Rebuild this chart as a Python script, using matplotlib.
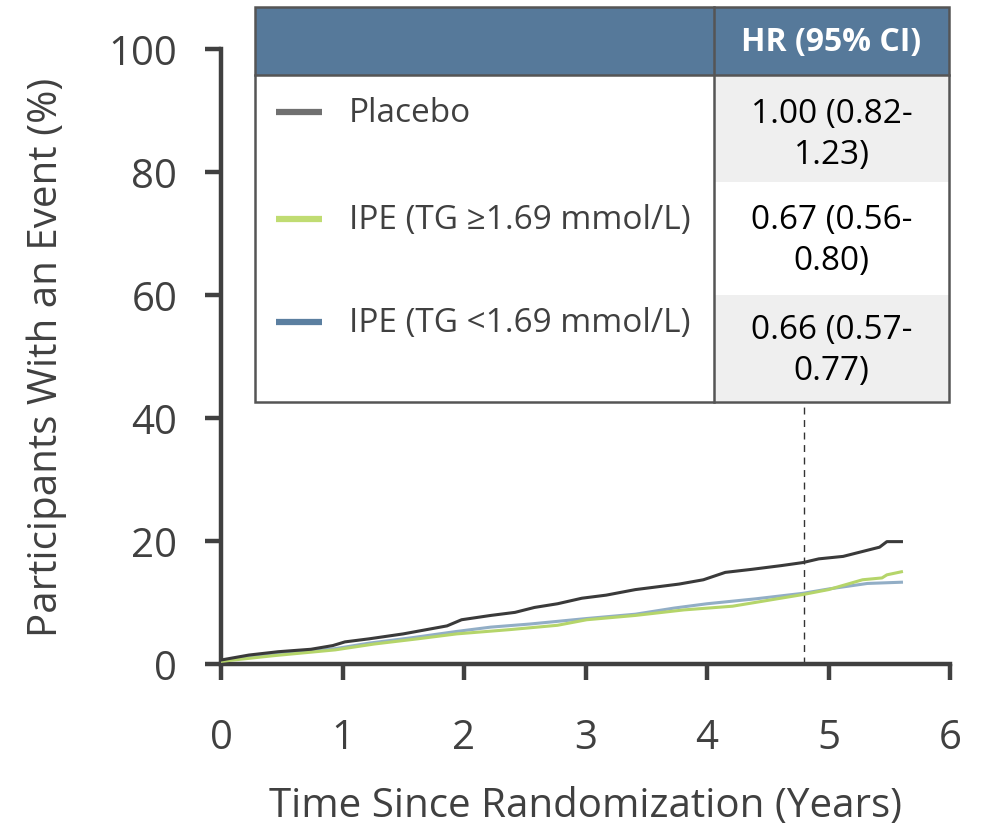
import matplotlib
matplotlib.use("Agg")
import matplotlib.pyplot as plt
from matplotlib.patches import Rectangle

plt.rcParams["font.family"] = ["Open Sans", "DejaVu Sans"]

INK = "#404040"
HEADER = "#56799a"
CELL_GREY = "#efefef"

# cumulative incidence (%) vs years since randomization
placebo_t = [0.0, 0.23, 0.47, 0.74, 0.92, 1.02, 1.22, 1.50, 1.86, 1.98, 2.22, 2.42,
             2.58, 2.77, 2.97, 3.17, 3.41, 3.77, 3.97, 4.15, 4.37, 4.61, 4.79, 4.92,
             5.12, 5.28, 5.42, 5.48, 5.60]
placebo_y = [0.65, 1.46, 2.0, 2.4, 3.0, 3.6, 4.1, 4.9, 6.2, 7.2, 7.9, 8.4,
             9.2, 9.8, 10.7, 11.2, 12.1, 13.0, 13.7, 14.9, 15.4, 16.0, 16.5, 17.1,
             17.5, 18.3, 19.0, 19.9, 19.9]

tg_low_t = [0.0, 0.43, 0.94, 1.22, 1.58, 1.94, 2.22, 2.54, 3.01, 3.41, 3.73, 4.00,
            4.40, 4.79, 5.00, 5.32, 5.60]
tg_low_y = [0.55, 1.6, 2.5, 3.4, 4.3, 5.3, 6.0, 6.5, 7.4, 8.1, 9.1, 9.8,
            10.6, 11.5, 12.2, 13.1, 13.3]

tg_high_t = [0.0, 0.43, 0.94, 1.26, 1.62, 1.94, 2.38, 2.77, 3.01, 3.41, 3.81, 4.21,
             4.79, 5.00, 5.28, 5.44, 5.48, 5.60]
tg_high_y = [0.43, 1.35, 2.3, 3.25, 4.1, 4.9, 5.6, 6.3, 7.2, 7.9, 8.8, 9.4,
             11.3, 12.1, 13.7, 14.0, 14.5, 15.0]

landmark_year = 4.8

groups = ["Placebo", "IPE (TG ≥1.69 mmol/L)", "IPE (TG <1.69 mmol/L)"]
hr = [1.00, 0.67, 0.66]
hr_lo = [0.82, 0.56, 0.57]
hr_hi = [1.23, 0.80, 0.77]
line_colors = ["#3a3a3a", "#b5d56a", "#92aec6"]
key_colors = ["#707070", "#c0dc72", "#5b7fa0"]

fig = plt.figure(figsize=(9.84, 8.29), dpi=100)
ax = fig.add_axes([0.2246, 0.1978, 0.7409, 0.7419])

ax.plot(placebo_t, placebo_y, color=line_colors[0], lw=2.2, zorder=4)
ax.plot(tg_low_t, tg_low_y, color=line_colors[2], lw=2.2, zorder=3)
ax.plot(tg_high_t, tg_high_y, color=line_colors[1], lw=2.2, zorder=3)
ax.axvline(landmark_year, color="#333333", lw=1.0, ls=(0, (5, 4)), zorder=2)

ax.set_xlim(0, 6)
ax.set_ylim(0, 100)
ax.set_xticks(range(0, 7))
ax.set_yticks(range(0, 101, 20))
for side in ("top", "right"):
    ax.spines[side].set_visible(False)
for side in ("left", "bottom"):
    ax.spines[side].set_linewidth(3.2)
    ax.spines[side].set_color(INK)
ax.tick_params(axis="both", direction="out", length=11.5, width=3.2, color=INK,
               labelsize=29, labelcolor=INK)
ax.tick_params(axis="y", pad=20)
ax.tick_params(axis="x", pad=27)
ax.set_xlabel("Time Since Randomization (Years)", fontsize=29, color=INK, labelpad=20)
ax.set_ylabel("Participants With an Event (%)", fontsize=29, color=INK, labelpad=30)

# HR table drawn on an overlay in pixel units
tab = fig.add_axes([0, 0, 1, 1], zorder=5)
tab.set_xlim(0, 984)
tab.set_ylim(829, 0)
tab.axis("off")
tab.patch.set_alpha(0)

left, right, top, bottom = 255, 949, 8, 403
col = 714
head_bot = 76
row_edges = [76, 184, 295, 403]

tab.add_patch(Rectangle((left, top), right - left, bottom - top, facecolor="white",
                        edgecolor="none"))
tab.add_patch(Rectangle((left, top), right - left, head_bot - top, facecolor=HEADER,
                        edgecolor="none"))
for i in range(3):
    y0, y1 = row_edges[i], row_edges[i + 1]
    face = CELL_GREY if i != 1 else "white"
    tab.add_patch(Rectangle((col, y0 + 1), right - col, y1 - y0 - 2, facecolor=face,
                            edgecolor="none"))
tab.add_patch(Rectangle((left, top), right - left, bottom - top, facecolor="none",
                        edgecolor="#555555", lw=1.8))
tab.plot([left, right], [head_bot, head_bot], color="#555555", lw=1.8)
tab.plot([col, col], [top, bottom], color="#555555", lw=1.8)

tab.text((col + right) / 2, (top + head_bot) / 2, "HR (95% CI)", ha="center",
         va="center", fontsize=23, fontweight="bold", color="white")

key_y = [113, 220, 323]
val_y = [135, 241, 351]
for i, name in enumerate(groups):
    tab.plot([276, 322], [key_y[i], key_y[i]], color=key_colors[i], lw=4.5,
             solid_capstyle="butt")
    tab.text(349, key_y[i], name, ha="left", va="center", fontsize=24, color=INK)
    tab.text((col + right) / 2, val_y[i], f"{hr[i]:.2f} ({hr_lo[i]:.2f}-\n{hr_hi[i]:.2f})",
             ha="center", va="center", fontsize=24, color="black", linespacing=1.35)

fig.savefig("out.png", dpi=100, facecolor="white")
